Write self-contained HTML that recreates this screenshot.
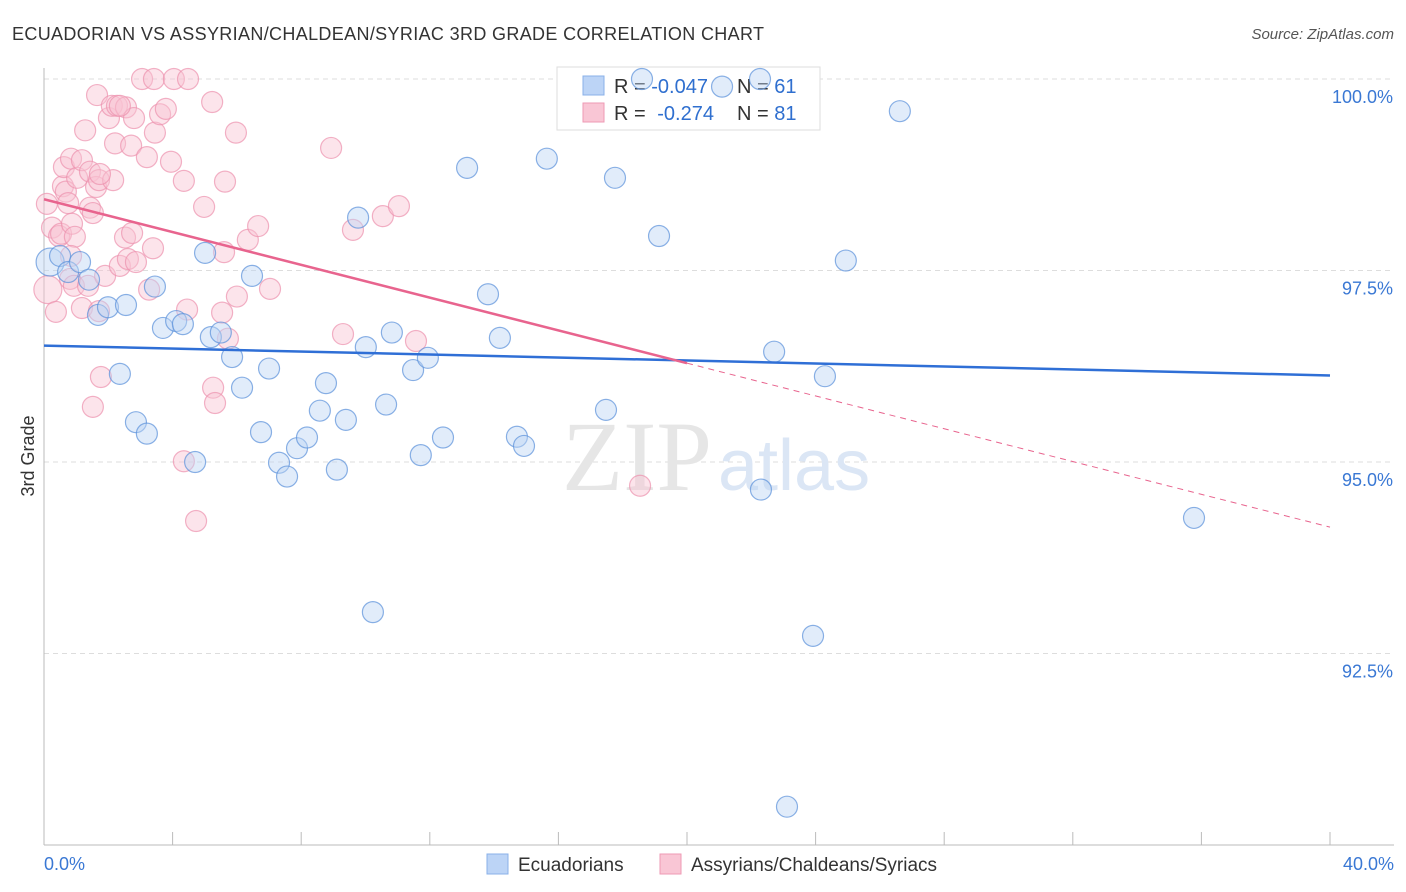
<!DOCTYPE html>
<html><head><meta charset="utf-8"><style>
body{margin:0;background:#fff;font-family:"Liberation Sans",sans-serif}
svg{display:block}
</style></head><body>
<svg width="1406" height="892" xmlns="http://www.w3.org/2000/svg">
<text x="12" y="40" font-size="18" fill="#333" textLength="752">ECUADORIAN VS ASSYRIAN/CHALDEAN/SYRIAC 3RD GRADE CORRELATION CHART</text>
<text x="1394" y="39" font-size="15" font-style="italic" fill="#555" text-anchor="end">Source: ZipAtlas.com</text>
<g id="grid"></g>
<g id="axes"></g>
<text x="712" y="490" font-size="100" font-family="Liberation Serif" fill="#e6e6e6" text-anchor="end">ZIP</text>
<text x="718" y="490" font-size="72" fill="#dbe6f5">atlas</text>
<g>
<rect x="557" y="67" width="263" height="63" fill="#fff" stroke="#ddd"/>
<rect x="583" y="76" width="21" height="19" fill="#bcd4f6" stroke="#8ab0e8"/>
<rect x="583" y="103" width="21" height="19" fill="#f9c6d5" stroke="#ee9ab4"/>
<text x="614" y="93" font-size="20" fill="#333">R = <tspan fill="#2f6fcf">-0.047</tspan></text>
<text x="737" y="93" font-size="20" fill="#333">N = <tspan fill="#2f6fcf">61</tspan></text>
<text x="614" y="120" font-size="20" fill="#333">R = <tspan fill="#2f6fcf" dx="6">-0.274</tspan></text>
<text x="737" y="120" font-size="20" fill="#333">N = <tspan fill="#2f6fcf">81</tspan></text>
</g>
<g id="pts"></g>
<g id="trends"></g>
<text x="0" y="0" transform="translate(34,456) rotate(-90)" font-size="18" fill="#333" text-anchor="middle">3rd Grade</text>
<text x="44" y="870" font-size="18" fill="#3a78d4">0.0%</text>
<text x="1394" y="870" font-size="18" fill="#3a78d4" text-anchor="end">40.0%</text>
<g>
<rect x="487" y="854" width="21" height="20" fill="#bcd4f6" stroke="#8ab0e8"/>
<text x="518" y="871" font-size="19" fill="#333">Ecuadorians</text>
<rect x="660" y="854" width="21" height="20" fill="#f9c6d5" stroke="#ee9ab4"/>
<text x="691" y="871" font-size="19" fill="#333">Assyrians/Chaldeans/Syriacs</text>
</g>
</svg>
<script>
const yTicks=[100,97.5,95,92.5];
const yTickLabels=["100.0%","97.5%","95.0%","92.5%"];
const xTicks=[0,4,8,12,16,20,24,28,32,36,40];
const blueX=[0.19,0.50,0.75,1.12,1.40,1.68,1.99,2.55,2.36,2.86,3.20,3.45,3.70,4.11,4.32,4.70,5.01,5.19,5.50,5.85,6.16,6.47,6.75,7.00,7.31,7.56,7.87,8.18,8.58,8.77,9.11,9.39,9.77,10.01,10.23,10.64,10.82,11.48,11.72,11.94,12.41,13.16,13.81,14.18,14.71,14.93,15.64,17.48,17.76,18.60,19.13,21.09,22.27,22.30,22.71,23.11,23.92,24.29,24.94,26.62,35.77];
const blueY=[97.61,97.69,97.48,97.61,97.38,96.92,97.02,97.05,96.15,95.52,95.37,97.29,96.75,96.84,96.80,95.00,97.73,96.63,96.69,96.37,95.97,97.43,95.39,96.22,94.99,94.81,95.18,95.32,95.67,96.03,94.90,95.55,98.19,96.50,93.04,95.75,96.69,96.20,95.09,96.36,95.32,98.84,97.19,96.62,95.33,95.21,98.96,95.68,98.71,100.0,97.95,99.90,100.0,94.64,96.44,90.50,92.73,96.12,97.63,99.58,94.27];
const pinkX=[0.12,0.09,0.25,0.37,0.47,0.53,0.59,0.62,0.68,0.75,0.81,0.84,0.87,0.96,0.93,1.03,1.18,1.18,1.28,1.37,1.43,1.43,1.52,1.52,1.62,1.65,1.71,1.77,1.71,1.90,2.02,2.11,2.15,2.21,2.27,2.36,2.52,2.55,2.61,2.71,2.74,2.80,2.86,3.05,3.20,3.27,3.39,3.42,3.45,3.61,3.79,3.95,4.04,4.35,4.35,4.48,4.45,4.73,4.98,5.23,5.26,5.32,5.54,5.60,5.63,5.72,5.97,6.00,6.34,6.66,7.03,8.93,9.30,9.61,10.54,11.04,11.57,18.54,0.84,1.74,2.36];
const pinkY=[97.25,98.37,98.06,96.96,97.95,97.98,98.60,98.85,98.53,98.38,97.39,98.96,98.11,97.94,97.30,98.71,98.94,97.01,99.33,97.30,98.32,98.79,98.25,95.72,98.59,99.79,98.68,96.11,96.97,97.43,99.49,99.65,98.68,99.16,99.65,97.56,97.93,99.63,97.65,99.13,97.99,99.49,97.61,100.0,98.98,97.25,97.79,100.0,99.30,99.54,99.61,98.92,100.0,98.67,95.01,100.0,96.99,94.23,98.33,99.70,95.97,95.77,96.95,97.74,98.66,96.61,99.30,97.16,97.90,98.08,97.26,99.10,96.67,98.03,98.21,98.34,96.58,94.69,97.69,98.76,99.65];
const blueTrend=[96.52,96.13];
const pinkTrend=[98.43,94.15];
const pinkSolidEnd=20;
const NS="http://www.w3.org/2000/svg";
const sx=v=>44+v/40*1286;
const sy=v=>79+(100-v)*76.6;
function mk(t,a,p){const e=document.createElementNS(NS,t);for(const k in a)e.setAttribute(k,a[k]);p.appendChild(e);return e;}
const grid=document.getElementById('grid'),axes=document.getElementById('axes'),pts=document.getElementById('pts'),tr=document.getElementById('trends');
yTicks.forEach((v,i)=>{
 const l=mk('line',{x1:44,x2:1394,y1:sy(v),y2:sy(v),stroke:'#ddd','stroke-dasharray':'5,4'},grid);
 
 
 const t=mk('text',{x:1393,y:sy(v)+24,'font-size':18,fill:'#3a78d4','text-anchor':'end'},grid);
 t.textContent=yTickLabels[i];
 
 
});
mk('line',{x1:44,x2:44,y1:68,y2:845,stroke:'#bbb'},axes);
mk('line',{x1:44,x2:1394,y1:845,y2:845,stroke:'#bbb'},axes);
xTicks.forEach(v=>{
 const l=mk('line',{x1:sx(v),x2:sx(v),y1:832,y2:845,stroke:'#bbb'},axes);
 
 
});
function dots(X,Y,fill,stroke,name){
 X.forEach((x,i)=>{
  const c=mk('circle',{cx:sx(x),cy:sy(Y[i]),r:(i==0?14:10.5),fill:fill,'fill-opacity':0.45,stroke:stroke,'stroke-opacity':0.7,'stroke-width':1.2},pts);
  
  
 });
}
dots(pinkX,pinkY,'#f8c4d3','#ec92ae','assyrian-point');
dots(blueX,blueY,'#bcd4f4','#5a90da','ecuadorian-point');
const pt=v=>pinkTrend[0]+(pinkTrend[1]-pinkTrend[0])*v/40;
let a=mk('line',{x1:sx(0),y1:sy(blueTrend[0]),x2:sx(40),y2:sy(blueTrend[1]),stroke:'#2f6fd6','stroke-width':2.5},tr);


a=mk('line',{x1:sx(0),y1:sy(pt(0)),x2:sx(pinkSolidEnd),y2:sy(pt(pinkSolidEnd)),stroke:'#e8648e','stroke-width':2.5},tr);


a=mk('line',{x1:sx(pinkSolidEnd),y1:sy(pt(pinkSolidEnd)),x2:sx(40),y2:sy(pt(40)),stroke:'#e8648e','stroke-width':1,'stroke-dasharray':'6,5'},tr);


</script>
</body></html>
